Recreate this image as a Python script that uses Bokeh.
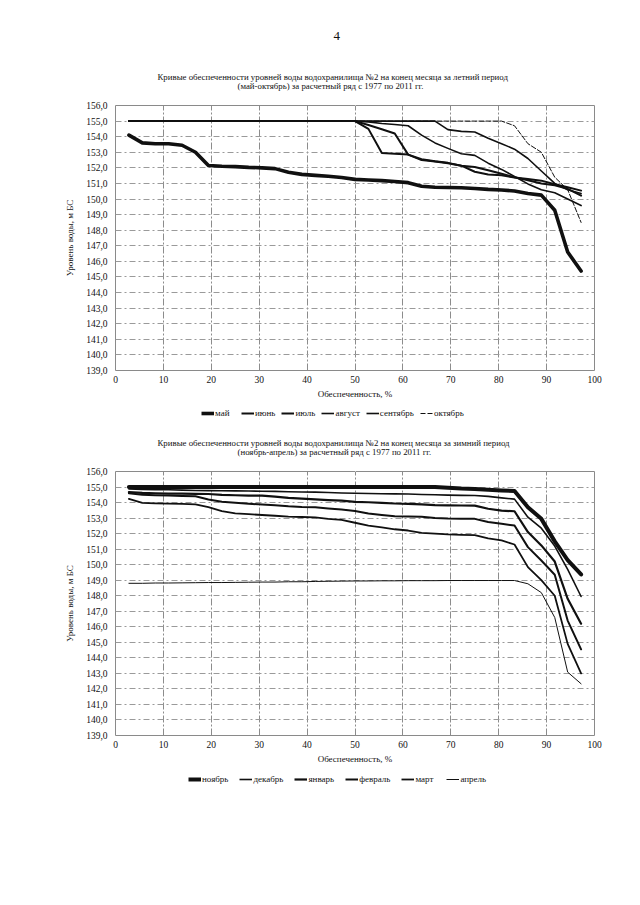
from bokeh.plotting import figure
from bokeh.models import Range1d, FixedTicker, Legend, LegendItem, Title, LinearAxis
from bokeh.layouts import column
from bokeh.embed import file_html
from bokeh.resources import INLINE

# ---------------- data ----------------
provision = [2.8, 5.6, 8.3, 11.1, 13.9, 16.7, 19.4, 22.2, 25.0, 27.8, 30.6, 33.3,
             36.1, 38.9, 41.7, 44.4, 47.2, 50.0, 52.8, 55.6, 58.3, 61.1, 63.9, 66.7,
             69.4, 72.2, 75.0, 77.8, 80.6, 83.3, 86.1, 88.9, 91.7, 94.4, 97.2]

x_ticks = [0, 10, 20, 30, 40, 50, 60, 70, 80, 90, 100]
y_ticks = [139, 140, 141, 142, 143, 144, 145, 146, 147, 148, 149, 150, 151, 152,
           153, 154, 155, 156]
y_tick_labels = ["139,0", "140,0", "141,0", "142,0", "143,0", "144,0", "145,0",
                 "146,0", "147,0", "148,0", "149,0", "150,0", "151,0", "152,0",
                 "153,0", "154,0", "155,0", "156,0"]

summer_names = ["май", "июнь", "июль", "август", "сентябрь", "октябрь"]
may = [154.1, 153.6, 153.55, 153.55, 153.45, 153.0, 152.15, 152.1, 152.08, 152.03,
       152.0, 151.95, 151.72, 151.58, 151.52, 151.46, 151.38, 151.26, 151.22, 151.18,
       151.12, 151.05, 150.82, 150.76, 150.74, 150.72, 150.68, 150.62, 150.58, 150.52,
       150.35, 150.25, 149.28, 146.6, 145.38]
june = [155.0, 155.0, 155.0, 155.0, 155.0, 155.0, 155.0, 155.0, 155.0, 155.0,
        155.0, 155.0, 155.0, 155.0, 155.0, 155.0, 155.0, 155.0, 154.5, 152.95,
        152.9, 152.85, 152.55, 152.42, 152.32, 152.14, 151.75, 151.58, 151.52, 151.38,
        151.28, 151.18, 150.95, 150.75, 150.54]
july = [155.0, 155.0, 155.0, 155.0, 155.0, 155.0, 155.0, 155.0, 155.0, 155.0,
        155.0, 155.0, 155.0, 155.0, 155.0, 155.0, 155.0, 155.0, 154.75, 154.48,
        154.2, 152.85, 152.5, 152.4, 152.3, 152.14, 152.05, 151.85, 151.62, 151.4,
        151.2, 151.0, 150.88, 150.65, 150.22]
august = [155.0, 155.0, 155.0, 155.0, 155.0, 155.0, 155.0, 155.0, 155.0, 155.0,
          155.0, 155.0, 155.0, 155.0, 155.0, 155.0, 155.0, 155.0, 154.95, 154.85,
          154.78, 154.7, 154.1, 153.6, 153.25, 152.9, 152.8, 152.3, 151.9, 151.45,
          150.97, 150.6, 150.4, 150.0, 149.58]
september = [155.0, 155.0, 155.0, 155.0, 155.0, 155.0, 155.0, 155.0, 155.0, 155.0,
             155.0, 155.0, 155.0, 155.0, 155.0, 155.0, 155.0, 155.0, 155.0, 155.0,
             155.0, 155.0, 155.0, 155.0, 154.45, 154.34, 154.3, 153.9, 153.55, 153.2,
             152.6, 151.8, 151.0, 150.6, 150.35]
october = [155.0, 155.0, 155.0, 155.0, 155.0, 155.0, 155.0, 155.0, 155.0, 155.0,
           155.0, 155.0, 155.0, 155.0, 155.0, 155.0, 155.0, 155.0, 155.0, 155.0,
           155.0, 155.0, 155.0, 155.0, 155.0, 155.0, 155.0, 155.0, 155.0, 154.7,
           153.55, 153.0, 151.4, 150.6, 148.5]

winter_names = ["ноябрь", "декабрь", "январь", "февраль", "март", "апрель"]
november = [155.0, 155.0, 155.0, 155.0, 155.0, 155.0, 155.0, 155.0, 155.0, 155.0,
            155.0, 155.0, 155.0, 155.0, 155.0, 155.0, 155.0, 155.0, 155.0, 155.0,
            155.0, 155.0, 155.0, 155.0, 154.95, 154.9, 154.88, 154.82, 154.78, 154.75,
            153.7, 152.95, 151.5, 150.3, 149.37]
december = [154.88, 154.85, 154.83, 154.82, 154.8, 154.78, 154.77, 154.76, 154.75, 154.74,
            154.73, 154.72, 154.7, 154.68, 154.67, 154.65, 154.62, 154.6, 154.58, 154.57,
            154.56, 154.55, 154.52, 154.5, 154.48, 154.46, 154.45, 154.4, 154.3, 154.22,
            153.06, 152.35, 151.2, 149.7, 147.95]
january = [154.67, 154.62, 154.6, 154.58, 154.57, 154.56, 154.55, 154.5, 154.47, 154.45,
           154.45, 154.38, 154.3, 154.25, 154.2, 154.16, 154.12, 154.05, 154.02, 153.98,
           153.94, 153.92, 153.88, 153.84, 153.82, 153.81, 153.8, 153.6, 153.48, 153.44,
           152.1, 151.24, 150.2, 147.8, 146.2]
february = [154.6, 154.5, 154.47, 154.45, 154.43, 154.4, 154.2, 154.05, 153.98, 153.92,
            153.87, 153.82, 153.76, 153.72, 153.7, 153.62, 153.55, 153.45, 153.3, 153.2,
            153.12, 153.1, 153.08, 153.0, 152.97, 152.96, 152.95, 152.75, 152.63, 152.52,
            151.13, 150.27, 149.35, 146.4, 144.55]
march = [154.24, 153.98, 153.95, 153.93, 153.92, 153.88, 153.7, 153.45, 153.3, 153.25,
         153.2, 153.15, 153.1, 153.07, 153.05, 152.95, 152.88, 152.7, 152.52, 152.4,
         152.28, 152.2, 152.05, 152.0, 151.95, 151.92, 151.9, 151.7, 151.56, 151.3,
         149.84, 149.0, 148.0, 144.9, 143.0]
april = [148.8, 148.8, 148.82, 148.82, 148.83, 148.84, 148.85, 148.85, 148.86, 148.87,
         148.88, 148.88, 148.9, 148.9, 148.92, 148.93, 148.94, 148.95, 148.95, 148.96,
         148.96, 148.97, 148.97, 148.97, 148.98, 148.98, 148.98, 148.98, 148.98, 148.98,
         148.77, 148.2, 146.6, 143.08, 142.33]

summer_title = ["Кривые обеспеченности  уровней  воды водохранилища №2 на конец месяца за летний период",
                "(май-октябрь)  за расчетный ряд с 1977 по 2011 гг."]
winter_title = ["Кривые обеспеченности  уровней  воды водохранилища №2 на конец месяца за зимний период",
                "(ноябрь-апрель)  за расчетный ряд с 1977 по 2011 гг."]
x_label = "Обеспеченность, %"
y_label = "Уровень воды, м БС"
page_number = "4"

# ---------------- styles ----------------
FONT = "Liberation Serif"
INK = "#111111"
FIG_W = 115 + 479 + 40
summer_widths = [3.6, 2.0, 2.0, 1.6, 1.6, 1.0]
summer_dash = ["solid", "solid", "solid", "solid", "solid", "5 2"]
winter_widths = [4.0, 1.6, 2.2, 2.0, 1.8, 1.0]
winter_dash = ["solid", "solid", "solid", "solid", "solid", "solid"]


def gap(h):
    # a blank axis (white tick on white, label hidden) that only reserves vertical space
    return LinearAxis(ticker=FixedTicker(ticks=[50]), axis_line_color=None,
                      major_tick_line_color="white", minor_tick_line_color=None,
                      major_tick_out=h, major_tick_in=0, minor_tick_out=0,
                      minor_tick_in=0, major_label_standoff=0,
                      major_label_text_alpha=0, major_label_text_font_size="1px",
                      axis_label=None)


def make_chart(titles, series, widths, dashes, top_border, frame_h, page=None):
    bottom_border = 33
    p = figure(width=FIG_W, height=top_border + frame_h + bottom_border,
               x_range=Range1d(0, 100), y_range=Range1d(139, 156),
               output_backend="svg", toolbar_location=None, title=None,
               min_border_left=115, min_border_right=40,
               min_border_top=top_border, min_border_bottom=bottom_border)
    p.background_fill_color = "white"
    p.border_fill_color = "white"
    p.outline_line_color = "#8a8a8a"
    p.outline_line_width = 1

    p.xaxis.ticker = FixedTicker(ticks=x_ticks)
    p.yaxis.ticker = FixedTicker(ticks=y_ticks)
    p.yaxis.major_label_overrides = {t: l for t, l in zip(y_ticks, y_tick_labels)}
    for ax in (p.xaxis, p.yaxis):
        ax.axis_line_color = None
        ax.major_tick_line_color = None
        ax.minor_tick_line_color = None
        ax.major_tick_out = 0
        ax.major_tick_in = 0
        ax.major_label_text_font = FONT
        ax.major_label_text_font_size = "9.5px"
        ax.major_label_text_color = INK
        ax.axis_label_text_font = FONT
        ax.axis_label_text_font_size = "9px"
        ax.axis_label_text_font_style = "normal"
        ax.axis_label_text_color = INK
    p.xaxis.major_label_standoff = 5
    p.xaxis.axis_label_standoff = 3
    p.yaxis.major_label_standoff = 8
    p.yaxis.axis_label_standoff = 8
    p.xaxis.axis_label = x_label
    p.yaxis.axis_label = y_label

    p.xgrid.grid_line_color = "#8c8c8c"
    p.xgrid.grid_line_dash = "7 2 2 2"
    p.ygrid.grid_line_color = "#9a9a9a"
    p.ygrid.grid_line_dash = "6 3 2 3"

    for ys, w, d in zip(series, widths, dashes):
        p.line(provision, ys, line_color="#101010", line_width=w, line_dash=d,
               line_join="round", line_cap="round")

    p.add_layout(gap(15), "above")
    p.add_layout(Title(text=titles[1], text_font=FONT, text_font_size="8.8px",
                       text_font_style="normal", align="left", offset=122,
                       standoff=0, text_color=INK), "above")
    p.add_layout(Title(text=titles[0], text_font=FONT, text_font_size="8.8px",
                       text_font_style="normal", align="left", offset=42,
                       standoff=-6, text_color=INK), "above")
    if page is not None:
        p.add_layout(gap(33), "above")
        p.add_layout(Title(text=page, text_font=FONT, text_font_size="13px",
                           text_font_style="normal", align="left", offset=218,
                           standoff=0, text_color=INK), "above")
    return p


def make_legend(series, names, widths, dashes, loc, spacing):
    # legend strip: the series are drawn against a range that keeps them out of view,
    # so only the legend keys are visible
    q = figure(width=FIG_W, height=22, x_range=Range1d(0, 100), y_range=Range1d(0, 1),
               output_backend="svg", toolbar_location=None, title=None,
               x_axis_type=None, y_axis_type=None,
               min_border_left=115, min_border_right=40,
               min_border_top=0, min_border_bottom=0)
    q.outline_line_color = None
    q.xgrid.visible = False
    q.ygrid.visible = False
    items = []
    for ys, name, w, d in zip(series, names, widths, dashes):
        r = q.line(provision, ys, line_color="#101010", line_width=w, line_dash=d)
        items.append(LegendItem(label=name, renderers=[r]))
    legend = Legend(items=items, orientation="horizontal", location=loc,
                    label_text_font=FONT, label_text_font_size="9px",
                    label_text_color=INK,
                    glyph_width=13, glyph_height=8, label_height=8,
                    label_standoff=1, spacing=spacing, padding=2, margin=0,
                    border_line_color=None, background_fill_alpha=0)
    q.add_layout(legend, "center")
    return q


summer = [may, june, july, august, september, october]
winter = [november, december, january, february, march, april]

p1 = make_chart(summer_title, summer, summer_widths, summer_dash, 105, 265, page_number)
l1 = make_legend(summer, summer_names, summer_widths, summer_dash, (86, 7), 6)
p2 = make_chart(winter_title, winter, winter_widths, winter_dash, 46, 264)
l2 = make_legend(winter, winter_names, winter_widths, winter_dash, (73, 6), 11)

layout = column(p1, l1, p2, l2, spacing=0)
open("out.html", "w").write(file_html(layout, INLINE))
